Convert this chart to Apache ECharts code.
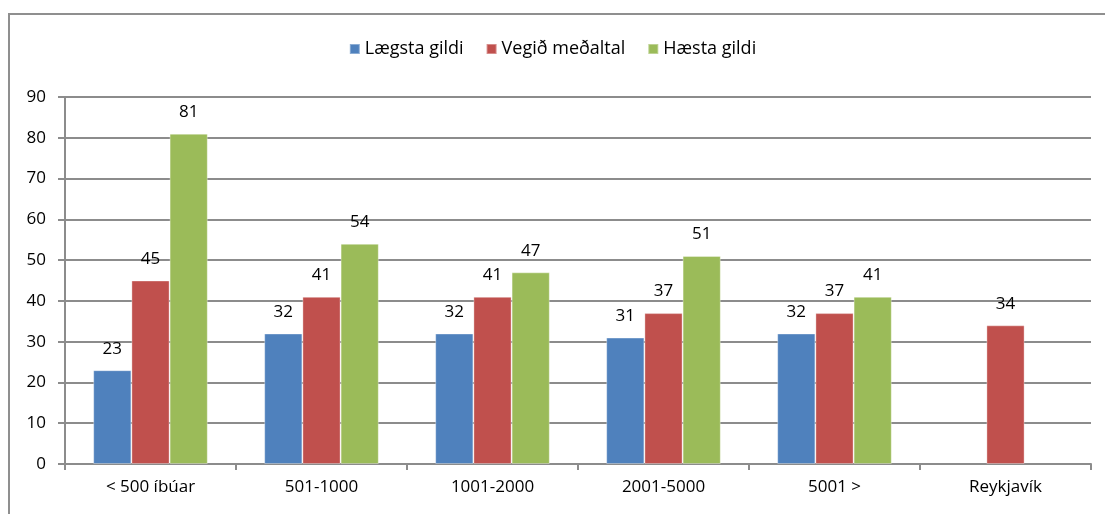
<!DOCTYPE html>
<html>
<head>
<meta charset="utf-8">
<script src="https://cdn.jsdelivr.net/npm/echarts@6/dist/echarts.min.js"></script>
<style>
  html, body { margin: 0; padding: 0; background: #fff; }
  #chart { width: 1105px; height: 514px; }
</style>
</head>
<body>
<div id="chart"></div>
<script>
const categories = ['< 500 íbúar', '501-1000', '1001-2000', '2001-5000', '5001 >', 'Reykjavík'];
const lowest = [23, 32, 32, 31, 32, null];
const weightedMean = [45, 41, 41, 37, 37, 34];
const highest = [81, 54, 47, 51, 41, null];
const seriesNames = ['Lægsta gildi', 'Vegið meðaltal', 'Hæsta gildi'];
const colors = ['#4F81BD', '#C0504D', '#9BBB59'];

const font = '"Open Sans", Lato, sans-serif';
const textSize = 17;
const gridColor = '#8c8c8c';

function barSeries(name, data, color) {
  return {
    name: name,
    type: 'bar',
    data: data,
    barGap: '0%',
    barCategoryGap: '33%',
    itemStyle: { color: color, borderColor: 'rgba(255,255,255,0.35)', borderWidth: 1 },
    label: {
      show: true,
      position: 'top',
      distance: 13,
      color: '#000',
      fontFamily: font,
      fontSize: textSize
    }
  };
}

const chart = echarts.init(document.getElementById('chart'), null, { renderer: 'canvas' });
chart.setOption({
  animation: false,
  color: colors,
  graphic: [{
    type: 'rect',
    shape: { x: 9, y: 14, width: 1200, height: 600 },
    style: { fill: 'none', stroke: '#8f8f8f', lineWidth: 2 },
    silent: true
  }],
  legend: {
    top: 35,
    left: 'center',
    itemWidth: 10,
    itemHeight: 10,
    itemGap: 22,
    icon: 'rect',
    textStyle: { fontFamily: font, fontSize: 18, color: '#000' },
    data: seriesNames
  },
  grid: { left: 65, right: 14, top: 97, bottom: 50, containLabel: false },
  xAxis: {
    type: 'category',
    data: categories,
    axisLine: { lineStyle: { color: gridColor, width: 2 } },
    axisTick: { show: true, length: 6, alignWithLabel: false, lineStyle: { color: gridColor, width: 2 } },
    axisLabel: { fontFamily: font, fontSize: textSize, color: '#000', margin: 15 }
  },
  yAxis: {
    type: 'value',
    min: 0,
    max: 90,
    interval: 10,
    axisLine: { show: true, lineStyle: { color: gridColor, width: 2 } },
    axisTick: { show: true, length: 7, lineStyle: { color: gridColor, width: 2 } },
    axisLabel: { fontFamily: font, fontSize: textSize, color: '#000', margin: 19 },
    splitLine: { lineStyle: { color: gridColor, width: 2 } }
  },
  series: [
    barSeries(seriesNames[0], lowest, colors[0]),
    barSeries(seriesNames[1], weightedMean, colors[1]),
    barSeries(seriesNames[2], highest, colors[2])
  ]
});
</script>
</body>
</html>
